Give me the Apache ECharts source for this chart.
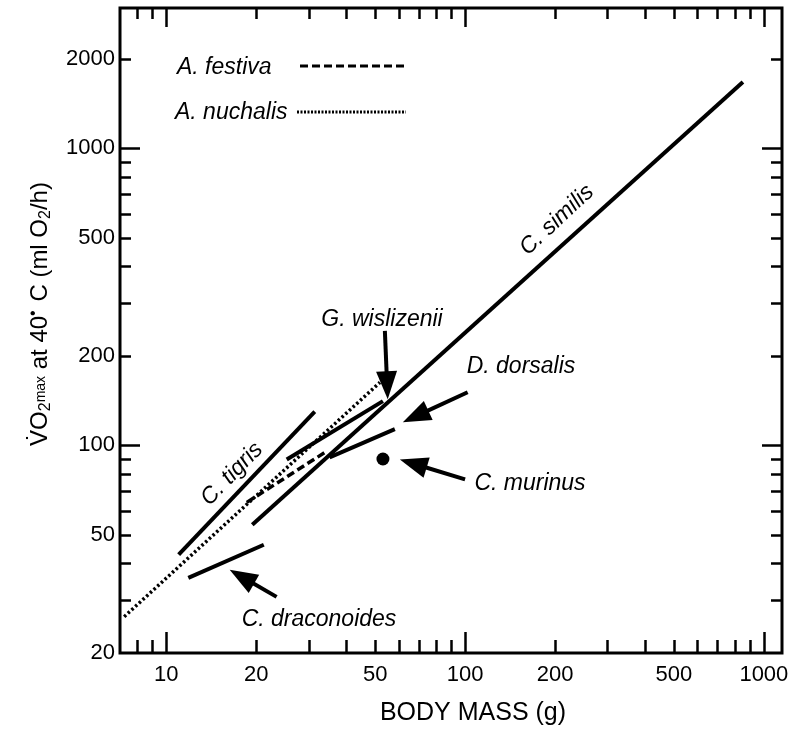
<!DOCTYPE html>
<html><head><meta charset="utf-8">
<script src="https://cdn.jsdelivr.net/npm/echarts@6/dist/echarts.min.js"></script>
<style>html,body{margin:0;padding:0;background:#fff}#c{width:799px;height:736px}</style>
</head><body><div id="c"></div>
<script>
// ---- tick values ----
const xLabelValues = [10, 20, 50, 100, 200, 500, 1000];
const yLabelValues = [20, 50, 100, 200, 500, 1000, 2000];
const xMinorTicks = [8, 9, 20, 30, 40, 50, 60, 70, 80, 90, 200, 300, 400, 500, 600, 700, 800, 900];
const xMajorTicks = [10, 100, 1000];
const yMinorTicks = [30, 40, 50, 60, 70, 80, 90, 200, 300, 400, 500, 600, 700, 800, 900, 2000];
const yMajorTicks = [100, 1000];

// ---- series values [body mass g, VO2max ml O2/h] ----
const cSimilis = [[19.4, 54.1], [851, 1672]];
const cTigris = [[11.0, 42.9], [31.4, 130]];
const cDraconoides = [[11.85, 35.8], [21.2, 46.3]];
const gWislizenii = [[25.3, 89.7], [53.1, 141]];
const dDorsalis = [[35.2, 91.2], [58.2, 113.4]];
const aFestiva = [[18.6, 64.3], [34.4, 95.5]];
const aNuchalis = [[7.23, 26.5], [51.9, 163]];
const cMurinus = [[53.1, 90]];

// ---- annotation arrows [x tail, y tail, x tip, y tip] ----
const arrows = [
  [53.9, 243, 55.1, 143],
  [102, 151, 61.9, 119.7],
  [100, 76.8, 60.5, 89.7],
  [23.4, 30.9, 16.3, 38.1]
];

const FONT = '"Liberation Sans", Arial, Helvetica, sans-serif';
const X_MIN = 7, X_MAX = 1150, Y_MIN = 20, Y_MAX = 2970;

function xAx(pos, ticks, len, labels) {
  return {
    type: 'log', logBase: 10, min: X_MIN, max: X_MAX, position: pos,
    axisLine: { show: false }, splitLine: { show: false }, minorTick: { show: false },
    axisTick: { show: true, inside: true, length: len, customValues: ticks, lineStyle: { color: '#000', width: 2.5 } },
    axisLabel: labels ? { show: true, customValues: labels, margin: 11, fontSize: 22, color: '#000', fontFamily: FONT,
      formatter: v => String(Math.round(v)) } : { show: false }
  };
}
function yAx(pos, ticks, len, labels) {
  return {
    type: 'log', logBase: 10, min: Y_MIN, max: Y_MAX, position: pos,
    axisLine: { show: false }, splitLine: { show: false }, minorTick: { show: false },
    axisTick: { show: true, inside: true, length: len, customValues: ticks, lineStyle: { color: '#000', width: 2.5 } },
    axisLabel: labels ? { show: true, customValues: labels, margin: 5, fontSize: 22, color: '#000', fontFamily: FONT,
      formatter: v => String(Math.round(v)) } : { show: false }
  };
}

function seg(name, data, type, width) {
  return {
    name, type: 'line', data, xAxisIndex: 0, yAxisIndex: 0, showSymbol: false, symbol: 'none',
    lineStyle: { color: '#000', width: width, type: type, cap: 'butt' }, silent: true, z: 3
  };
}

const labelFont = 'italic 23px ' + FONT;
function txt(t, x, y, rotDeg, align) {
  return { type: 'text', x, y, rotation: (rotDeg || 0) * Math.PI / 180, z: 10,
    style: { text: t, font: labelFont, fill: '#000', align: align || 'center', verticalAlign: 'middle' } };
}

const chart = echarts.init(document.getElementById('c'), null, { renderer: 'canvas' });
chart.setOption({
  animation: false,
  backgroundColor: '#fff',
  grid: { left: 120, top: 8, right: 17, bottom: 83, show: true, borderColor: '#000', borderWidth: 3, containLabel: false },
  xAxis: [
    xAx('bottom', xMinorTicks, 13, xLabelValues),
    xAx('bottom', xMajorTicks, 21, null),
    xAx('top', xMinorTicks, 11, null),
    xAx('top', xMajorTicks, 19, null)
  ],
  yAxis: [
    yAx('left', yMinorTicks, 11, yLabelValues),
    yAx('left', yMajorTicks, 20, null),
    yAx('right', yMinorTicks, 11, null),
    yAx('right', yMajorTicks, 20, null)
  ],
  series: [
    seg('C. similis', cSimilis, 'solid', 4),
    seg('C. tigris', cTigris, 'solid', 4),
    seg('C. draconoides', cDraconoides, 'solid', 4),
    seg('G. wislizenii', gWislizenii, 'solid', 4),
    seg('D. dorsalis', dDorsalis, 'solid', 4),
    seg('A. festiva', aFestiva, [8, 4], 3.5),
    seg('A. nuchalis', aNuchalis, [2.5, 2.5], 3.5),
    { name: 'C. murinus', type: 'scatter', data: cMurinus, symbol: 'circle', symbolSize: 13,
      itemStyle: { color: '#000', opacity: 1 }, silent: true, z: 4 },
    { name: 'arrows', type: 'custom', data: arrows, silent: true, z: 5,
      encode: { x: [0, 2], y: [1, 3] },
      renderItem: function (params, api) {
        const p1 = api.coord([api.value(0), api.value(1)]);
        const p2 = api.coord([api.value(2), api.value(3)]);
        const dx = p2[0] - p1[0], dy = p2[1] - p1[1];
        const L = Math.sqrt(dx * dx + dy * dy);
        const ux = dx / L, uy = dy / L;
        const hl = 28, hw = 10.5;
        const bx = p2[0] - ux * hl, by = p2[1] - uy * hl;
        return { type: 'group', children: [
          { type: 'line', shape: { x1: p1[0], y1: p1[1], x2: bx + ux * 4, y2: by + uy * 4 },
            style: { stroke: '#000', lineWidth: 4 } },
          { type: 'polygon', shape: { points: [[p2[0], p2[1]], [bx - uy * hw, by + ux * hw], [bx + uy * hw, by - ux * hw]] },
            style: { fill: '#000' } }
        ] };
      }
    }
  ],
  graphic: [
    txt('C. similis', 557, 220, 43),
    txt('C. tigris', 232, 474, 46),
    txt('G. wislizenii', 382, 320),
    txt('D. dorsalis', 521, 367),
    txt('C. murinus', 530, 484),
    txt('C. draconoides', 319, 620),
    txt('A. festiva', 177, 68, 0, 'left'),
    txt('A. nuchalis', 175, 113, 0, 'left'),
    { type: 'line', shape: { x1: 300, y1: 66, x2: 406, y2: 66 }, style: { stroke: '#000', lineWidth: 3, lineDash: [8, 4] } },
    { type: 'line', shape: { x1: 297, y1: 112, x2: 406, y2: 112 }, style: { stroke: '#000', lineWidth: 3, lineDash: [2, 1.5] } },
    { type: 'text', x: 473, y: 713, style: { text: 'BODY MASS (g)', font: '25px ' + FONT, fill: '#000', align: 'center', verticalAlign: 'middle' } },
    { type: 'text', x: 40, y: 314, rotation: Math.PI / 2,
      style: {
        text: '{a|V\u0307O}{s|2}{m|max}{a| at 40}{d|\u2022}{a| C (ml O}{s|2}{a|/h)}',
        align: 'center', verticalAlign: 'middle', fill: '#000',
        rich: {
          a: { fontSize: 24, fontFamily: FONT, fill: '#000', color: '#000' },
          s: { fontSize: 16, fontFamily: FONT, color: '#000', padding: [12, 0, 0, 0] },
          m: { fontSize: 14, fontFamily: FONT, color: '#000', padding: [2, 0, 0, 0] },
          d: { fontSize: 16, fontFamily: FONT, color: '#000', padding: [0, 2, 12, 0] }
        }
      } }
  ]
});
</script></body></html>
